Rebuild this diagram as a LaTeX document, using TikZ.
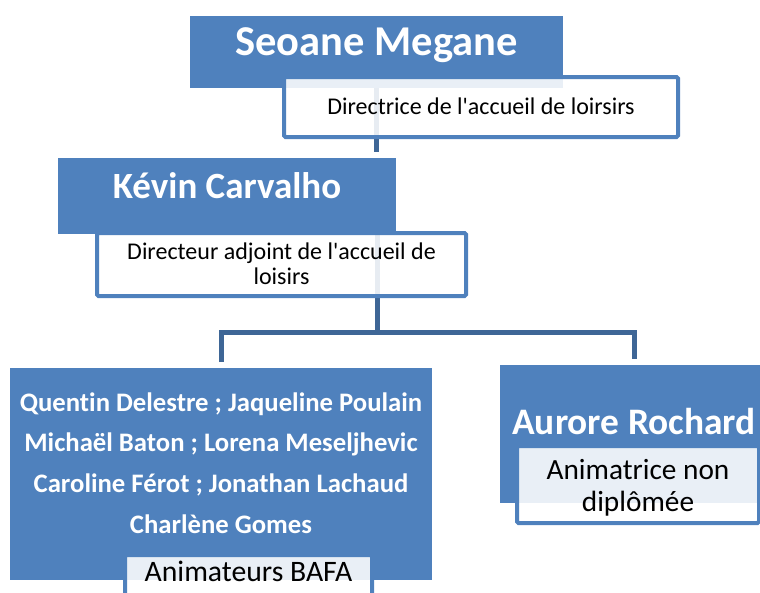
\documentclass[tikz,border=0pt]{standalone}
\usepackage{fontspec}
\setmainfont{Carlito}[Ligatures=NoCommon]
\usepackage{tikz}
\usetikzlibrary{positioning, backgrounds}
\usepackage{xcolor}
\definecolor{boxblue}{HTML}{4F81BD}
\definecolor{linkblue}{HTML}{3E6696}

\begin{document}
\begin{tikzpicture}[x=1pt, y=-1pt,
    namebox/.style={fill=boxblue, text=white, inner sep=0pt, anchor=north, align=center},
    rolebox/.style={draw=boxblue, line width=4pt, rounded corners=1.5pt, fill=white, fill opacity=0.88, text opacity=1, inner sep=0pt, anchor=north, align=center},
    link/.style={draw=linkblue, line width=5pt}]
    \useasboundingbox (0,0) rectangle (760,592);

    % Directrice
    \node[namebox, minimum width=373pt, text height=39pt, text depth=33pt, font=\fontsize{42.5}{50}\selectfont\bfseries] (seoane) at (376.5,16) {Seoane Megane};
    \node[rolebox, minimum width=394pt, text height=37pt, text depth=23pt, font=\fontsize{24}{28}\selectfont] (role1) at (481,75) {Directrice de l\textquotesingle accueil de loirsirs};

    % Directeur adjoint
    \node[namebox, minimum width=338pt, text height=40pt, text depth=36pt, font=\fontsize{37}{44}\selectfont\bfseries] (kevin) at (227,158) {Kévin Carvalho};
    \node[rolebox, minimum width=369pt, text height=51pt, text depth=12pt, font=\fontsize{24}{25}\selectfont] (role2) at (281.5,231) {Directeur adjoint de l\textquotesingle accueil de\\loisirs};

    % Animateurs
    \node[namebox, minimum width=422pt, text height=165pt, text depth=47pt, font=\fontsize{26.7}{40.7}\selectfont\bfseries] (bafa) at (221,368) {Quentin Delestre ; Jaqueline Poulain\\Michaël Baton ; Lorena Meseljhevic\\Caroline Férot ; Jonathan Lachaud\\Charlène Gomes};
    \node[rolebox, minimum width=247pt, text height=26pt, text depth=40pt, font=\fontsize{29.7}{34}\selectfont] (role3) at (248.5,553) {Animateurs BAFA};

    \node[namebox, minimum width=268pt, text height=69pt, text depth=69pt, font=\fontsize{37.4}{44}\selectfont\bfseries] (aurore) at (634,365) {Aurore Rochard};
    \node[rolebox, minimum width=242pt, text height=65pt, text depth=12pt, font=\fontsize{29.3}{32}\selectfont] (role4) at (638,444) {Animatrice non\\diplômée};

    % Connectors (behind the boxes)
    \coordinate (branch) at (377,332);
    \begin{scope}[on background layer]
        \draw[link, shorten >=6pt] (seoane.center) -- (seoane.center |- kevin.north);
        \draw[link] (branch |- kevin.center) -- (branch);
        \draw[link, shorten <=6pt, shorten >=6pt] (bafa.north) |- (branch) -| (aurore.north);
    \end{scope}
\end{tikzpicture}
\end{document}
